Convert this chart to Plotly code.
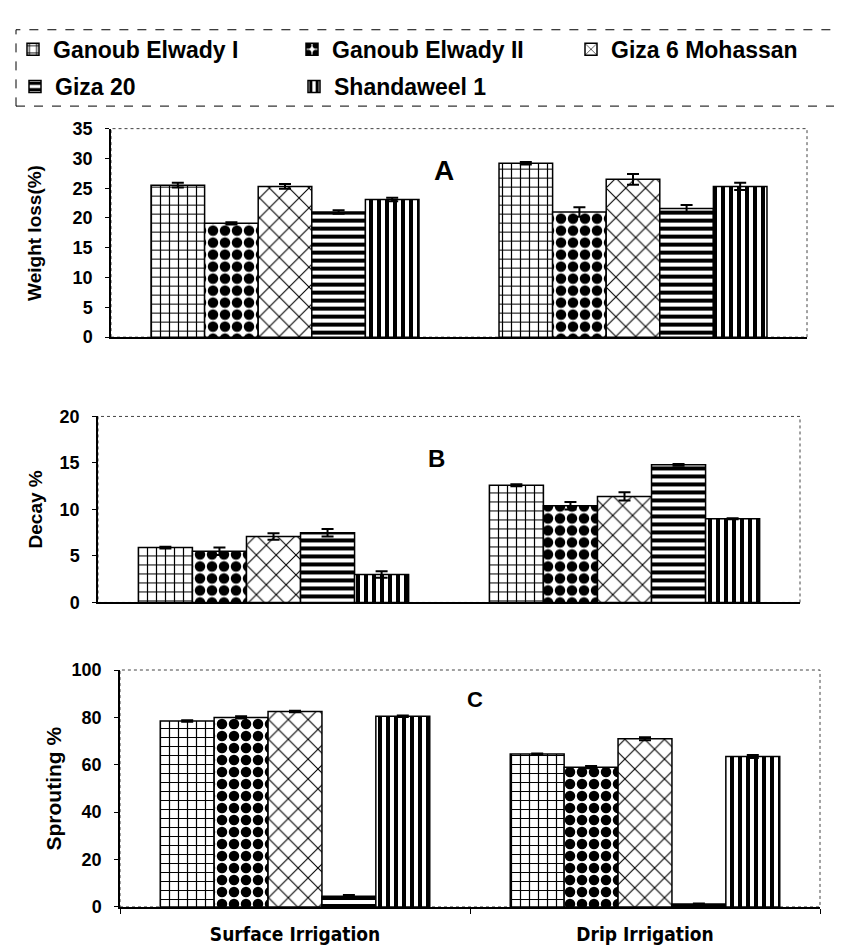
import plotly.graph_objects as go

W, H = 842, 952

categories = ["Surface Irrigation", "Drip Irrigation"]
cultivars = ["Ganoub Elwady I", "Ganoub Elwady II", "Giza 6 Mohassan", "Giza 20", "Shandaweel 1"]

weight_loss_surface = [25.5, 19.1, 25.3, 21.0, 23.1]
weight_loss_drip = [29.2, 21.0, 26.5, 21.6, 25.3]
weight_loss_err_surface = [0.4, 0.2, 0.4, 0.3, 0.3]
weight_loss_err_drip = [0.2, 0.8, 0.9, 0.6, 0.6]

decay_surface = [5.9, 5.5, 7.1, 7.5, 3.0]
decay_drip = [12.6, 10.4, 11.4, 14.8, 9.0]
decay_err_surface = [0.1, 0.4, 0.35, 0.4, 0.35]
decay_err_drip = [0.1, 0.4, 0.45, 0.1, 0.05]

sprouting_surface = [78.5, 80.0, 82.5, 4.5, 80.5]
sprouting_drip = [64.5, 59.0, 71.0, 1.2, 63.5]
sprouting_err_surface = [0.3, 0.5, 0.3, 0.5, 0.3]
sprouting_err_drip = [0.3, 0.5, 0.6, 0.2, 0.6]

weight_ticks = [0, 5, 10, 15, 20, 25, 30, 35]
decay_ticks = [0, 5, 10, 15, 20]
sprout_ticks = [0, 20, 40, 60, 80, 100]

# styles
pattern_shapes = ["+", ".", "x", "-", "|"]
pattern_sizes = [9, 12, 14, 8, 8]
pattern_solid = [0.25, 0.6, 0.15, 0.5, 0.5]
legend_rows = ["legend", "legend", "legend", "legend2", "legend2"]

BOLD = "Liberation Sans, Arial, sans-serif"
NARROW = "Liberation Sans Narrow, DejaVu Sans Condensed, Arial Narrow, sans-serif"


def px_x(p):
    return p / W


def px_y(p):
    return 1 - p / H


panels = [
    dict(ax="", surf=weight_loss_surface, drip=weight_loss_drip,
         es=weight_loss_err_surface, ed=weight_loss_err_drip,
         xd=(103, 799), yd=(113, 326), rng=[0, 35], ticks=weight_ticks,
         title="Weight loss(%)", tx=27, tfs=19, label="A", lx=436, ly=156, ls=28),
    dict(ax="2", surf=decay_surface, drip=decay_drip,
         es=decay_err_surface, ed=decay_err_drip,
         xd=(90, 792), yd=(407, 597), rng=[0, 20], ticks=decay_ticks,
         title="Decay %", tx=27, tfs=19, label="B", lx=428, ly=450, ls=24),
    dict(ax="3", surf=sprouting_surface, drip=sprouting_drip,
         es=sprouting_err_surface, ed=sprouting_err_drip,
         xd=(112, 812), yd=(666, 908), rng=[0, 100], ticks=sprout_ticks,
         title="Sprouting %", tx=45, tfs=21, label="C", lx=467, ly=696, ls=22),
]

fig = go.Figure()
annotations = []
shapes = []
layout_axes = {}

for pi, p in enumerate(panels):
    for i, name in enumerate(cultivars):
        fig.add_trace(go.Bar(
            x=categories,
            y=[p["surf"][i], p["drip"][i]],
            name=name,
            legendgroup=name,
            legend=legend_rows[i],
            showlegend=(pi == 0),
            xaxis="x" + p["ax"], yaxis="y" + p["ax"],
            marker=dict(
                color="white",
                line=dict(color="black", width=1.5),
                pattern=dict(shape=pattern_shapes[i], fgcolor="black", bgcolor="white",
                             fgopacity=1, fillmode="replace",
                             size=pattern_sizes[i], solidity=pattern_solid[i]),
            ),
            error_y=dict(type="data", array=[p["es"][i], p["ed"][i]], visible=True,
                         color="black", thickness=2, width=6),
        ))
    xname = "xaxis" + p["ax"]
    yname = "yaxis" + p["ax"]
    last = pi == 2
    layout_axes[xname] = dict(
        domain=[px_x(p["xd"][0]), px_x(p["xd"][1])],
        anchor="y" + p["ax"],
        type="category",
        range=[-0.5, 1.5],
        showline=True, linecolor="black", linewidth=1.5,
        ticks="outside" if last else "", tickson="boundaries", ticklen=5, tickcolor="black",
        showticklabels=last,
        ticklabelstandoff=10,
        tickfont=dict(family=NARROW, size=19, color="black", weight="bold"),
        showgrid=False, zeroline=False, fixedrange=True,
    )
    layout_axes[yname] = dict(
        domain=[px_y(p["yd"][1]), px_y(p["yd"][0])],
        anchor="x" + p["ax"],
        range=p["rng"],
        tickvals=p["ticks"],
        showline=True, linecolor="black", linewidth=1.5,
        ticks="outside", ticklen=4, tickcolor="black",
        ticklabelstandoff=9,
        tickfont=dict(family=BOLD, size=18, color="black", weight="bold"),
        showgrid=False, zeroline=False, fixedrange=True,
    )
    shapes.append(dict(type="rect", xref="x" + p["ax"] + " domain", yref="y" + p["ax"] + " domain",
                       x0=0, x1=1, y0=0, y1=1, line=dict(color="#444", width=1, dash="dot"),
                       layer="below"))
    annotations.append(dict(text=p["title"], x=px_x(p["tx"]), y=px_y((p["yd"][0] + p["yd"][1]) / 2),
                            xref="paper", yref="paper", showarrow=False, textangle=-90,
                            font=dict(family=BOLD, size=p["tfs"], color="black", weight="bold"),
                            xanchor="center", yanchor="middle"))
    annotations.append(dict(text=p["label"], x=px_x(p["lx"]), y=px_y(p["ly"]),
                            xref="paper", yref="paper", showarrow=False,
                            font=dict(family=BOLD, size=p["ls"], color="black", weight="bold"),
                            xanchor="center", yanchor="middle"))

# legend frame
shapes.append(dict(type="rect", xref="paper", yref="paper",
                   x0=px_x(8), x1=px_x(845), y0=px_y(90), y1=px_y(12),
                   line=dict(color="black", width=1, dash="dash")))

legend_common = dict(orientation="h", xanchor="left", yanchor="middle",
                     entrywidth=234, entrywidthmode="pixels",
                     font=dict(family=BOLD, size=23, color="black", weight="bold"),
                     bgcolor="rgba(0,0,0,0)", borderwidth=0,
                     itemclick=False, itemdoubleclick=False)

fig.update_layout(
    width=W, height=H,
    margin=dict(l=0, r=0, t=0, b=0),
    paper_bgcolor="white", plot_bgcolor="white",
    barmode="group", bargap=0.23, bargroupgap=0,
    showlegend=True,
    legend=dict(x=px_x(7), y=px_y(32), **legend_common),
    legend2=dict(x=px_x(7), y=px_y(70), **legend_common),
    annotations=annotations,
    shapes=shapes,
    **layout_axes,
)

fig.write_html("out.html")
